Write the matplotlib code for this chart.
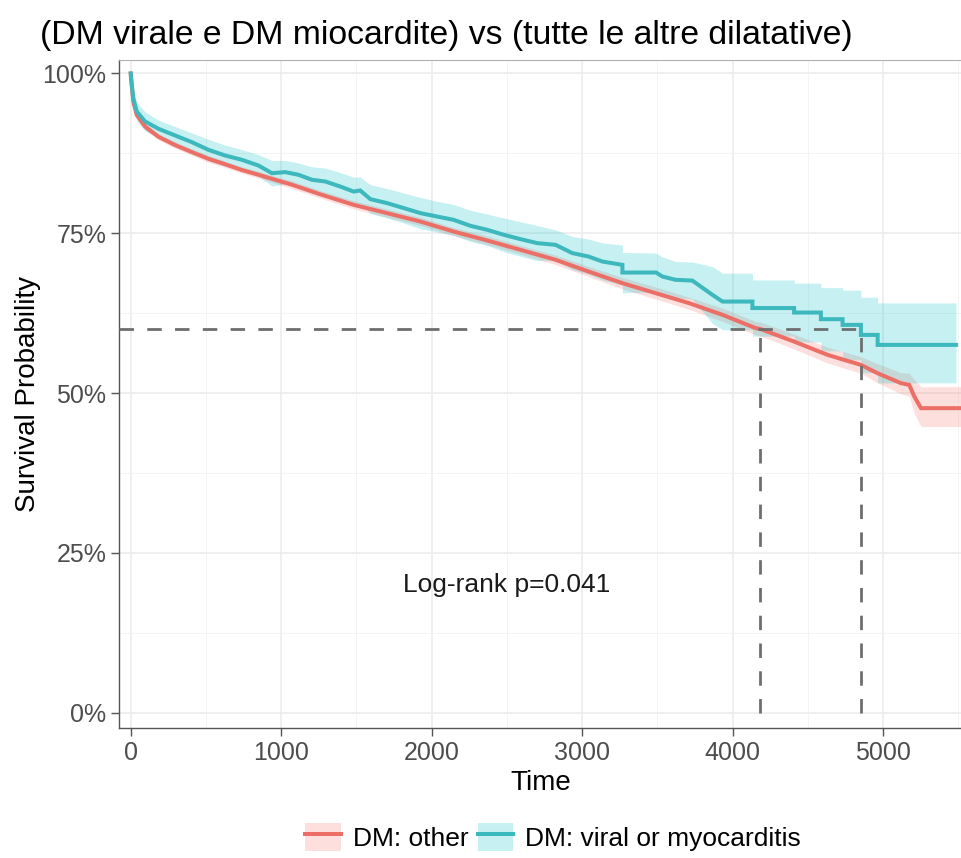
import matplotlib.pyplot as plt
from matplotlib.patches import Patch
from matplotlib.lines import Line2D
from matplotlib.ticker import FuncFormatter, MultipleLocator

# ---------------------------------------
# Kaplan-Meier curves
# ---------------------------------------
# "DM: other" has so many events that it reads as a smooth line;
# the viral/myocarditis group shows its steps in the tail.

other_t = [0, 2, 17, 40, 95, 184, 295, 406, 516, 627, 738, 849, 960, 1071,
           1259, 1481, 1703, 1925, 2146, 2369, 2590, 2823, 3044, 3267, 3488,
           3710, 3932, 4153, 4187, 4408, 4630, 4852, 4963, 5118, 5173, 5207,
           5251, 5529]
other_s = [1.0, 0.993, 0.956, 0.935, 0.917, 0.901, 0.888, 0.877, 0.8665,
           0.858, 0.849, 0.8415, 0.8337, 0.826, 0.811, 0.7945, 0.7815, 0.7684,
           0.7527, 0.7387, 0.7241, 0.7085, 0.690, 0.672, 0.6563, 0.6407,
           0.6224, 0.6016, 0.600, 0.5806, 0.5598, 0.5441, 0.531, 0.5155,
           0.5128, 0.4945, 0.4764, 0.4764]
other_lo = [1.0, 0.990, 0.951, 0.930, 0.912, 0.896, 0.883, 0.872, 0.861,
            0.853, 0.844, 0.836, 0.828, 0.820, 0.805, 0.788, 0.775, 0.762,
            0.746, 0.732, 0.717, 0.701, 0.682, 0.663, 0.647, 0.631, 0.612,
            0.591, 0.589, 0.569, 0.547, 0.531, 0.516, 0.499, 0.495, 0.468,
            0.4476, 0.4476]
other_hi = [1.0, 0.996, 0.961, 0.940, 0.922, 0.906, 0.893, 0.882, 0.872,
            0.863, 0.854, 0.847, 0.839, 0.832, 0.817, 0.801, 0.788, 0.775,
            0.759, 0.746, 0.731, 0.716, 0.698, 0.681, 0.666, 0.650, 0.633,
            0.612, 0.611, 0.592, 0.572, 0.557, 0.546, 0.532, 0.531, 0.521,
            0.510, 0.510]

viral_t = [0, 2, 17, 40, 95, 184, 295, 406, 516, 627, 738, 849, 938, 1027,
           1115, 1204, 1293, 1392, 1481, 1525, 1592, 1703, 1814, 1925, 2036,
           2146, 2257, 2369, 2479, 2590, 2701, 2823, 2934, 3042, 3134, 3267,
           3267, 3491, 3533, 3621, 3732, 3865, 3932, 4131, 4131, 4408, 4408,
           4586, 4586, 4730, 4730, 4852, 4852, 4963, 4963, 5484]
viral_s = [1.0, 0.993, 0.961, 0.9405, 0.925, 0.9135, 0.903, 0.8926, 0.8806,
           0.8717, 0.865, 0.856, 0.844, 0.8457, 0.8415, 0.8337, 0.831, 0.8232,
           0.8153, 0.817, 0.8034, 0.7972, 0.7894, 0.7815, 0.7762, 0.771,
           0.7617, 0.7554, 0.7476, 0.7408, 0.7346, 0.7319, 0.719, 0.7136,
           0.7058, 0.7006, 0.6886, 0.6886, 0.6823, 0.6772, 0.676, 0.6537,
           0.6432, 0.6432, 0.633, 0.633, 0.626, 0.626, 0.6156, 0.6156, 0.6067,
           0.6067, 0.591, 0.591, 0.5754, 0.5754]
viral_lo = [1.0, 0.991, 0.947, 0.926, 0.910, 0.900, 0.889, 0.878, 0.864,
            0.855, 0.849, 0.839, 0.824, 0.827, 0.823, 0.813, 0.810, 0.801,
            0.793, 0.796, 0.781, 0.774, 0.766, 0.757, 0.752, 0.747, 0.737,
            0.731, 0.721, 0.714, 0.707, 0.708, 0.693, 0.686, 0.677, 0.669,
            0.657, 0.658, 0.652, 0.649, 0.647, 0.609, 0.599, 0.599, 0.589,
            0.589, 0.580, 0.580, 0.566, 0.566, 0.552, 0.552, 0.532, 0.532,
            0.516, 0.516]
viral_hi = [1.0, 0.995, 0.975, 0.955, 0.940, 0.927, 0.917, 0.907, 0.897,
            0.888, 0.881, 0.873, 0.864, 0.864, 0.860, 0.854, 0.852, 0.845,
            0.838, 0.838, 0.826, 0.820, 0.813, 0.806, 0.800, 0.795, 0.786,
            0.780, 0.774, 0.768, 0.762, 0.7554, 0.745, 0.741, 0.735, 0.7319,
            0.720, 0.719, 0.713, 0.7058, 0.705, 0.698, 0.6876, 0.6876, 0.677,
            0.677, 0.672, 0.672, 0.665, 0.665, 0.661, 0.661, 0.650, 0.650,
            0.641, 0.641]

groups = ["DM: other", "DM: viral or myocarditis"]
line_colors = ["#EC6F67", "#3DB8BD"]
fill_colors = ["#F8766D", "#00BFC4"]
curves = [(other_t, other_s, other_lo, other_hi),
          (viral_t, viral_s, viral_lo, viral_hi)]

median_level = 0.6
median_times = [4183, 4852]
pval_text = "Log-rank p=0.041"

plt.rcParams["font.family"] = ["Liberation Sans", "DejaVu Sans"]

fig = plt.figure(figsize=(9.62, 8.58), dpi=100)
ax = fig.add_axes([0.1237, 0.1515, 0.8773, 0.7785])

x_lo, x_hi = -78, 5530

for (t, s, lo, hi), lc, fc in zip(curves, line_colors, fill_colors):
    ax.fill_between(t, lo, hi, color=fc, alpha=0.22, lw=0)
for (t, s, lo, hi), lc in zip(curves, line_colors):
    ax.plot(t, s, color=lc, lw=2.9, zorder=3, solid_joinstyle="miter")

# median lines
dash = (0, (5.2, 4.8))
ax.plot([x_lo, max(median_times)], [median_level, median_level],
        ls=dash, color="#6E6E6E", lw=2.0, zorder=4)
for mt in median_times:
    ax.plot([mt, mt], [0, median_level], ls=dash,
            color="#6E6E6E", lw=2.0, zorder=4)

ax.text(2500, 0.2, pval_text, ha="center", va="center", fontsize=19,
        color="#1a1a1a")

ax.set_xlim(x_lo, x_hi)
ax.set_ylim(-0.024, 1.021)
ax.xaxis.set_major_locator(MultipleLocator(1000))
ax.xaxis.set_minor_locator(MultipleLocator(500))
ax.yaxis.set_major_locator(MultipleLocator(0.25))
ax.yaxis.set_minor_locator(MultipleLocator(0.125))
ax.yaxis.set_major_formatter(FuncFormatter(lambda v, p: f"{v*100:.0f}%"))

ax.grid(True, which="major", color="#EBEBEB", lw=1.1, zorder=0)
ax.grid(True, which="minor", color="#F2F2F2", lw=0.6, zorder=0)
ax.set_axisbelow(True)

for side in ["top", "right"]:
    ax.spines[side].set_color("#B0B0B0")
    ax.spines[side].set_linewidth(0.8)
for side in ["left", "bottom"]:
    ax.spines[side].set_color("#555555")
    ax.spines[side].set_linewidth(1.0)

ax.tick_params(which="major", direction="out", length=6, width=1,
               color="#555555", labelcolor="#4D4D4D", labelsize=18, pad=3)
ax.tick_params(which="minor", length=0)

ax.set_xlabel("Time", fontsize=20, color="black", labelpad=4)
ax.set_ylabel("Survival Probability", fontsize=20, color="black", labelpad=-2)
ax.yaxis.set_label_coords(-0.093, 0.5)
fig.text(0.042, 0.959, "(DM virale e DM miocardite) vs (tutte le altre dilatative)",
         fontsize=24.3, ha="left", va="center")

handles = [(Patch(facecolor=fc, alpha=0.22, lw=0),
            Line2D([0], [0], color=lc, lw=2.9))
           for lc, fc in zip(line_colors, fill_colors)]
fig.legend(handles, groups, loc="lower center", bbox_to_anchor=(0.575, -0.02),
           ncol=2, frameon=False, fontsize=19, handlelength=1.35,
           handleheight=1.3, handletextpad=0.45, columnspacing=0.35)

fig.savefig("out.png", dpi=100)
